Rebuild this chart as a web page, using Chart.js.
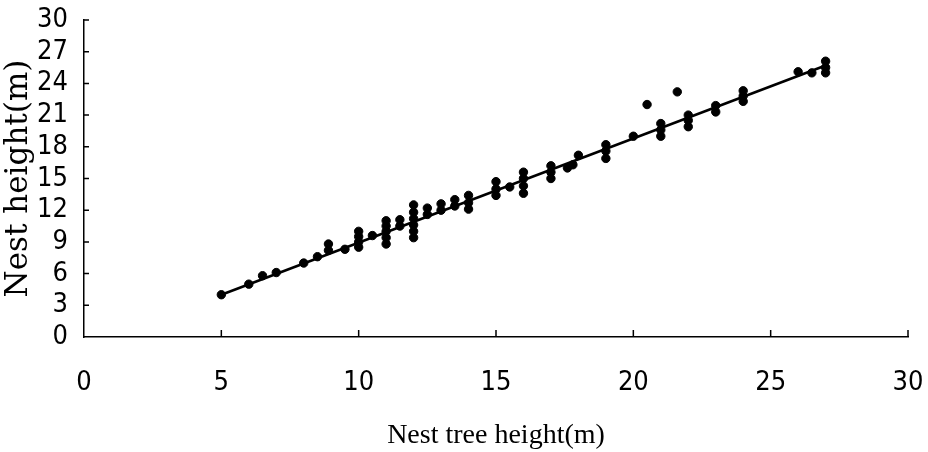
<!DOCTYPE html>
<html>
<head>
<meta charset="utf-8">
<script src="https://cdn.jsdelivr.net/npm/chart.js@4/dist/chart.umd.min.js"></script>
<style>
  html, body { margin: 0; padding: 0; background: #fff; }
  #wrap { width: 928px; height: 452px; }
</style>
</head>
<body>
<div id="wrap"><canvas id="nestChart"></canvas></div>
<script>
"use strict";

// nest tree height (x) and nest height (y)
const treeHeight = [5, 6, 6.5, 7, 8, 8.5, 8.9, 8.9, 9.5, 10, 10, 10, 10, 10.5,
    11, 11, 11, 11, 11, 11.5, 11.5, 12, 12, 12, 12, 12, 12, 12.5, 12.5, 13, 13,
    13.5, 13.5, 14, 14, 14, 15, 15, 15, 15.5, 16, 16, 16, 16, 17, 17, 17, 17.6,
    17.8, 18, 19, 19, 19, 20, 20.5, 21, 21, 21, 21.6, 22, 22, 22, 23, 23, 24,
    24, 24, 26, 26.5, 27, 27, 27];
const nestHeight = [4, 5, 5.8, 6.1, 7, 7.6, 8.2, 8.8, 8.3, 8.5, 9, 9.5, 10, 9.6,
    8.8, 9.4, 10, 10.5, 11, 10.5, 11.1, 9.4, 10, 10.6, 11.2, 11.8, 12.5, 11.6,
    12.2, 12, 12.6, 12.4, 13, 12.1, 12.7, 13.4, 13.4, 14, 14.7, 14.2, 13.6, 14.3,
    15, 15.6, 15, 15.6, 16.2, 16, 16.3, 17.2, 16.9, 17.6, 18.2, 19, 22, 19, 19.6,
    20.2, 23.2, 19.9, 20.5, 21, 21.3, 21.9, 22.3, 22.8, 23.3, 25.1, 25, 25,
    25.5, 26.1];

// fitted line end points
const fitX = [5, 27];
const fitY = [4.0, 25.7];

const xTicks = [0, 5, 10, 15, 20, 25, 30];
const yTicks = [0, 3, 6, 9, 12, 15, 18, 21, 24, 27, 30];

const tickFont = { family: "'DejaVu Sans Condensed', 'DejaVu Sans', sans-serif", size: 27 };

// tick marks drawn inside the axes, like the printed figure
const innerTicks = {
    id: "innerTicks",
    afterDraw(chart) {
        const ctx = chart.ctx;
        const xs = chart.scales.x;
        const ys = chart.scales.y;
        ctx.save();
        ctx.strokeStyle = "#000";
        ctx.lineWidth = 1.5;
        ctx.beginPath();
        xTicks.forEach(v => {
            if (v === 0) return;
            const px = xs.getPixelForValue(v);
            ctx.moveTo(px, ys.bottom);
            ctx.lineTo(px, ys.bottom - 7);
        });
        yTicks.forEach(v => {
            if (v === 0) return;
            const py = ys.getPixelForValue(v);
            ctx.moveTo(xs.left, py);
            ctx.lineTo(xs.left + 5, py);
        });
        ctx.stroke();
        ctx.restore();
    }
};

new Chart(document.getElementById("nestChart"), {
    type: "scatter",
    data: {
        datasets: [{
            label: "Nests",
            data: treeHeight.map((x, i) => ({ x: x, y: nestHeight[i] })),
            backgroundColor: "#000",
            borderColor: "#000",
            pointRadius: 4.2,
            pointHoverRadius: 4.2
        }, {
            type: "line",
            label: "Fit",
            data: fitX.map((x, i) => ({ x: x, y: fitY[i] })),
            borderColor: "#000",
            borderWidth: 2.6,
            pointRadius: 0,
            fill: false
        }]
    },
    options: {
        responsive: true,
        maintainAspectRatio: false,
        animation: false,
        layout: { padding: { top: 20, right: 20, left: 0, bottom: 0 } },
        plugins: {
            legend: { display: false },
            tooltip: { enabled: false }
        },
        scales: {
            x: {
                type: "linear",
                min: 0,
                max: 30,
                afterBuildTicks: s => { s.ticks = xTicks.map(v => ({ value: v })); },
                afterFit: s => { s.height = 115; s.paddingLeft = 0; s.paddingRight = 0; },
                grid: { display: false, drawTicks: false },
                border: { display: true, color: "#000", width: 1.5 },
                ticks: { color: "#000", font: tickFont, padding: 30, maxRotation: 0, autoSkip: false },
                title: {
                    display: true,
                    text: "Nest tree height(m)",
                    color: "#000",
                    font: { family: "'Liberation Serif', serif", size: 28 },
                    padding: { top: 0, bottom: 0 }
                }
            },
            y: {
                type: "linear",
                min: 0,
                max: 30,
                afterBuildTicks: s => { s.ticks = yTicks.map(v => ({ value: v })); },
                afterFit: s => { s.width = 84; s.paddingTop = 0; s.paddingBottom = 0; },
                grid: { display: false, drawTicks: false },
                border: { display: true, color: "#000", width: 1.5 },
                ticks: { color: "#000", font: tickFont, padding: 16, autoSkip: false },
                title: {
                    display: true,
                    text: "Nest height(m)",
                    color: "#000",
                    font: { family: "'DejaVu Serif', serif", size: 31 },
                    padding: { top: 0, bottom: 0 }
                }
            }
        }
    },
    plugins: [innerTicks]
});
</script>
</body>
</html>
